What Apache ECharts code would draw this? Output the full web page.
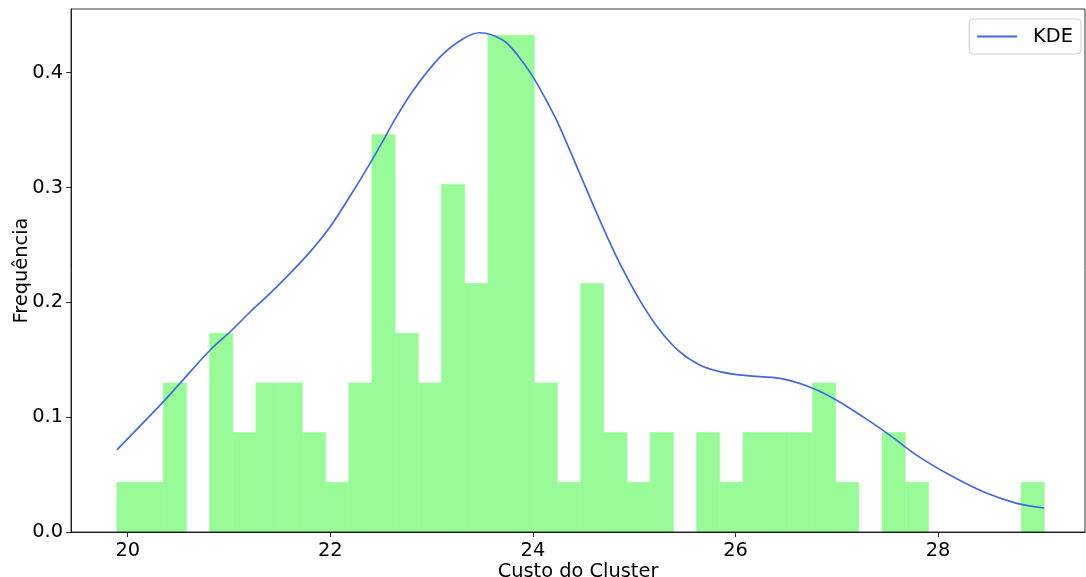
<!DOCTYPE html>
<html>
<head>
<meta charset="utf-8">
<script src="https://cdn.jsdelivr.net/npm/echarts@6/dist/echarts.min.js"></script>
<style>
html,body{margin:0;padding:0;background:#fff;}
#chart{width:1086px;height:577px;}
</style>
</head>
<body>
<div id="chart"></div>
<script>
// Histogram: 40 bins, first edge and bin width (data units)
var binStart = 19.893;
var binWidth = 0.2289;
// Density (frequency) of each bin, left to right
var binDensity = [
  0.0433, 0.0433, 0.1298, 0.0, 0.1731, 0.0866, 0.1298, 0.1298, 0.0866, 0.0433,
  0.1298, 0.3462, 0.1731, 0.1298, 0.3029, 0.2164, 0.4327, 0.4327, 0.1298, 0.0433,
  0.2164, 0.0866, 0.0433, 0.0866, 0.0, 0.0866, 0.0433, 0.0866, 0.0866, 0.0866,
  0.1298, 0.0433, 0.0, 0.0866, 0.0433, 0.0, 0.0, 0.0, 0.0, 0.0433
];
// KDE curve samples
var kdeX = [19.893, 20.353, 20.501, 20.814, 21.011, 21.208, 21.405, 21.602, 21.800, 21.997,
            22.194, 22.392, 22.523, 22.638, 22.818, 23.082, 23.311, 23.476, 23.698, 23.838,
            24.002, 24.167, 24.265, 24.462, 24.660, 24.857, 25.054, 25.251, 25.448,
            25.646, 25.843, 26.040, 26.237, 26.467, 26.763, 26.994, 27.256, 27.520, 27.783,
            28.111, 28.440, 28.769, 29.048];
var kdeY = [0.0716, 0.1136, 0.1280, 0.1585, 0.1744, 0.1916, 0.2078, 0.2252, 0.2440, 0.2657,
            0.2924, 0.3211, 0.3411, 0.3594, 0.3846, 0.4136, 0.4296, 0.4348, 0.4288, 0.4165,
            0.3962, 0.3702, 0.3527, 0.3122, 0.2716, 0.2339, 0.2020, 0.1759, 0.1570,
            0.1455, 0.1397, 0.1368, 0.1353, 0.1333, 0.1252, 0.1150, 0.1005, 0.0846, 0.0672,
            0.0498, 0.0353, 0.0252, 0.0209];
var xTicks = [20, 22, 24, 26, 28];
var yTicks = [0.0, 0.1, 0.2, 0.3, 0.4];
var xTitle = 'Custo do Cluster';
var yTitle = 'Frequência';
var seriesName = 'KDE';

var FONT = 'DejaVu Sans';
var FS = 19.4;

var histData = binDensity.map(function (d, i) {
  return [binStart + i * binWidth, binStart + (i + 1) * binWidth, d];
});
var kdeData = kdeX.map(function (x, i) { return [x, kdeY[i]]; });

var chart = echarts.init(document.getElementById('chart'), null, {renderer: 'canvas'});
chart.setOption({
  animation: false,
  backgroundColor: '#ffffff',
  grid: {left: 71, right: 1, top: 9, bottom: 45, containLabel: false, outerBoundsMode: 'none', z: 10,
         show: true, borderColor: '#000', borderWidth: 0.8, backgroundColor: 'transparent'},
  legend: {
    right: 5, top: 19, z: 20,
    data: [{name: seriesName, icon: 'rect'}],
    itemWidth: 40, itemHeight: 2,
    padding: [8, 8, 8, 8],
    borderColor: '#cccccc', borderWidth: 1, borderRadius: 4,
    backgroundColor: 'rgba(255,255,255,0.8)',
    textStyle: {fontFamily: FONT, fontSize: FS, color: '#000', padding: [0, 0, 0, 11]}
  },
  xAxis: {
    type: 'value', min: 19.44, max: 29.45, z: 10,
    name: xTitle, nameLocation: 'middle', nameGap: 30, nameMoveOverlap: false,
    nameTextStyle: {fontFamily: FONT, fontSize: FS, color: '#000'},
    axisLine: {show: true, onZero: false, lineStyle: {color: '#000', width: 0.8}},
    axisTick: {show: true, inside: false, length: 5, customValues: xTicks, lineStyle: {color: '#000', width: 0.8}},
    axisLabel: {show: true, customValues: xTicks, margin: 9, fontFamily: FONT, fontSize: FS, color: '#000'},
    splitLine: {show: false}
  },
  yAxis: {
    type: 'value', min: 0, max: 0.4555, z: 10,
    name: yTitle, nameLocation: 'middle', nameGap: 40, nameRotate: 90, nameMoveOverlap: false,
    nameTextStyle: {fontFamily: FONT, fontSize: FS, color: '#000'},
    axisLine: {show: true, lineStyle: {color: '#000', width: 0.8}},
    axisTick: {show: true, inside: false, length: 5, customValues: yTicks, lineStyle: {color: '#000', width: 0.8}},
    axisLabel: {show: true, customValues: yTicks, margin: 8, fontFamily: FONT, fontSize: FS, color: '#000',
      formatter: function (v) { return v.toFixed(1); }},
    splitLine: {show: false}
  },
  series: [
    {
      type: 'custom',
      name: 'hist',
      data: histData,
      encode: {x: [0, 1], y: 2},
      renderItem: function (params, api) {
        if (!(api.value(2) > 0)) { return null; }
        var p0 = api.coord([api.value(0), api.value(2)]);
        var p1 = api.coord([api.value(1), 0]);
        return {
          type: 'rect',
          shape: {x: p0[0], y: p0[1], width: p1[0] - p0[0], height: p1[1] - p0[1]},
          style: {fill: '#98fb98', stroke: '#98fb98', lineWidth: 0.6}
        };
      },
      z: 1
    },
    {
      type: 'line',
      name: seriesName,
      data: kdeData,
      smooth: 0.35,
      symbol: 'none',
      showSymbol: false,
      lineStyle: {color: '#4169e1', width: 1.7},
      itemStyle: {color: '#4169e1'},
      z: 3
    }
  ]
});
</script>
</body>
</html>
